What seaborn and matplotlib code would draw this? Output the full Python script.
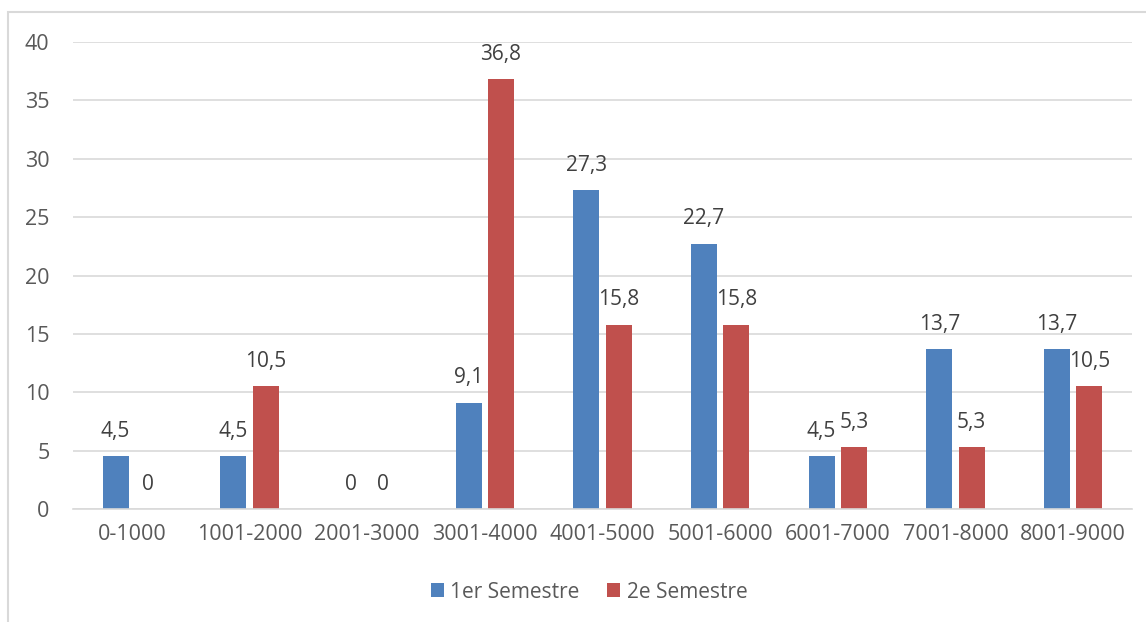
import matplotlib
matplotlib.use("Agg")
import matplotlib.pyplot as plt
from matplotlib.patches import Rectangle, Patch
import pandas as pd
import seaborn as sns

# Income brackets and the share (%) for each semester
categories = ["0-1000", "1001-2000", "2001-3000", "3001-4000", "4001-5000",
              "5001-6000", "6001-7000", "7001-8000", "8001-9000"]
sem1 = [4.5, 4.5, 0, 9.1, 27.3, 22.7, 4.5, 13.7, 13.7]
sem2 = [0, 10.5, 0, 36.8, 15.8, 15.8, 5.3, 5.3, 10.5]
series_names = ["1er Semestre", "2e Semestre"]
yticks = [0, 5, 10, 15, 20, 25, 30, 35, 40]

colors = ["#4F81BD", "#C0504D"]
text_gray = "#595959"
label_gray = "#404040"
grid_gray = "#D9D9D9"

df = pd.DataFrame({
    "cat": categories * 2,
    "val": sem1 + sem2,
    "serie": [series_names[0]] * len(categories) + [series_names[1]] * len(categories),
})

sns.set_theme(style="white")
plt.rcParams["font.family"] = ["Open Sans", "DejaVu Sans"]

fig = plt.figure(figsize=(11.46, 6.22), dpi=100)
ax = fig.add_axes([73 / 1146, 113 / 622, (1132 - 73) / 1146, (509 - 42) / 622])

sns.barplot(data=df, x="cat", y="val", hue="serie", palette=colors,
            width=0.55, gap=0.2, saturation=1, ax=ax, legend=False,
            edgecolor="none")

ax.set_ylim(0, 40)
ax.set_xlim(-0.5, len(categories) - 0.5)
ax.set_yticks(yticks)
ax.set_yticklabels([str(t) for t in yticks])
ax.set_xlabel("")
ax.set_ylabel("")
ax.yaxis.grid(True, color=grid_gray, linewidth=1.2)
ax.set_axisbelow(True)
for side in ["top", "right", "left"]:
    ax.spines[side].set_visible(False)
ax.spines["bottom"].set_color(grid_gray)
ax.spines["bottom"].set_linewidth(1.2)
ax.tick_params(axis="both", length=0, labelsize=15.5, colors=text_gray)
ax.tick_params(axis="y", pad=17)
ax.tick_params(axis="x", pad=11)

# Value labels above each bar, with a decimal comma
for container, values in zip(ax.containers, [sem1, sem2]):
    for bar, v in zip(container, values):
        txt = f"{v:g}".replace(".", ",")
        ax.annotate(txt, (bar.get_x() + bar.get_width() / 2, v),
                    xytext=(0, 18), textcoords="offset points",
                    ha="center", va="center", fontsize=15, color=label_gray)

# Chart-area frame
fig.patches.append(Rectangle((8 / 1146, -0.1), 1.2, (622 - 12) / 622 + 0.1,
                             transform=fig.transFigure, fill=False,
                             edgecolor=grid_gray, linewidth=1.5))

handles = [Patch(facecolor=c, edgecolor="none") for c in colors]
fig.legend(handles, series_names, loc="center", bbox_to_anchor=(589 / 1146, 30 / 622),
           ncol=2, frameon=False, fontsize=15, labelcolor=text_gray,
           handlelength=0.65, handleheight=0.65, handletextpad=0.3, columnspacing=1.3)

fig.savefig("out.png", dpi=100)
